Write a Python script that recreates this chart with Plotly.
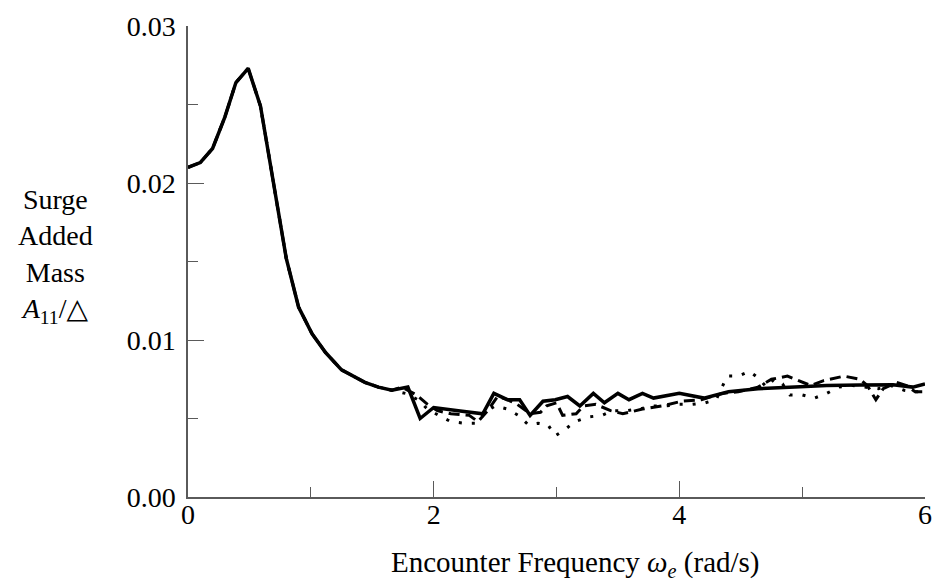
import plotly.graph_objects as go

# Shared low-frequency part (all three curves coincide)
omega_low = [0.0, 0.10, 0.20, 0.30, 0.39, 0.49, 0.59, 0.66, 0.74, 0.80, 0.90, 1.01, 1.12, 1.25, 1.44, 1.55, 1.66]
A_low = [0.0210, 0.0213, 0.0222, 0.0242, 0.0264, 0.0273, 0.0249, 0.0217, 0.0179, 0.0152, 0.0121, 0.0104,
         0.0092, 0.0081, 0.0073, 0.0070, 0.0068]

# Solid curve tail
omega_solid = [1.79, 1.89, 2.00, 2.20, 2.40, 2.49, 2.60, 2.70, 2.785, 2.89, 2.99, 3.09, 3.19, 3.30, 3.39,
               3.50, 3.59, 3.70, 3.79, 4.00, 4.20, 4.40, 4.64, 4.94, 5.20, 5.47, 5.74, 5.90, 6.00]
A_solid = [0.0070, 0.0050, 0.0057, 0.0055, 0.0053, 0.0066, 0.0062, 0.0062, 0.0052, 0.0061, 0.0062, 0.0064,
           0.0058, 0.0066, 0.0060, 0.0066, 0.0062, 0.0066, 0.0063, 0.0066, 0.0063, 0.0067, 0.0069, 0.0070,
           0.0071, 0.00713, 0.00715, 0.0070, 0.0072]

# Dashed curve tail
omega_dash = [1.74, 1.86, 1.95, 2.03, 2.14, 2.29, 2.36, 2.44, 2.52, 2.60, 2.68, 2.785, 2.87, 2.92, 3.00,
              3.05, 3.16, 3.22, 3.32, 3.44, 3.54, 3.70, 3.86, 4.02, 4.18, 4.35, 4.48, 4.64, 4.75, 4.88,
              4.97, 5.07, 5.17, 5.23, 5.34, 5.47, 5.53, 5.60, 5.66, 5.77, 5.85, 5.92, 6.00]
A_dash = [0.0070, 0.0065, 0.0059, 0.0055, 0.0053, 0.0052, 0.0048, 0.0055, 0.0064, 0.0062, 0.0059, 0.0053,
          0.0054, 0.0058, 0.0060, 0.0052, 0.0053, 0.0058, 0.0059, 0.0055, 0.0053, 0.0056, 0.0058, 0.0061,
          0.0062, 0.0066, 0.0067, 0.0070, 0.0075, 0.0077, 0.0074, 0.0071, 0.0074, 0.0075, 0.0077, 0.0075,
          0.0071, 0.0062, 0.0069, 0.0073, 0.0071, 0.0067, 0.0067]

# Dotted curve tail
omega_dot = [1.77, 1.87, 1.95, 2.04, 2.14, 2.25, 2.35, 2.42, 2.50, 2.60, 2.69, 2.77, 2.85, 2.93, 2.99,
             3.07, 3.15, 3.26, 3.37, 3.46, 3.57, 3.68, 3.78, 3.89, 4.00, 4.10, 4.21, 4.30, 4.34, 4.39,
             4.48, 4.57, 4.64, 4.71, 4.77, 4.84, 4.90, 5.00, 5.10, 5.20, 5.30, 5.41, 5.51, 5.62, 5.72,
             5.83, 5.92, 6.00]
A_dot = [0.0066, 0.0062, 0.0056, 0.0052, 0.0048, 0.0047, 0.0047, 0.0054, 0.0058, 0.0056, 0.0052, 0.0046,
         0.0047, 0.0046, 0.0039, 0.0043, 0.0048, 0.0051, 0.0052, 0.0055, 0.0055, 0.0056, 0.0058, 0.0058,
         0.0059, 0.0059, 0.0060, 0.0062, 0.0069, 0.0077, 0.0077, 0.0080, 0.0076, 0.0070, 0.0075, 0.0072,
         0.0065, 0.0065, 0.0063, 0.0066, 0.0070, 0.0071, 0.0070, 0.0069, 0.0071, 0.0068, 0.0067, 0.0067]

x_ticks = [0, 2, 4, 6]
y_ticks = [0.00, 0.01, 0.02, 0.03]

FONT = "'Liberation Serif', 'Times New Roman', Times, 'DejaVu Serif', serif"
FS = 28
AXC = "#5a5a5a"

fig = go.Figure()
fig.add_trace(go.Scatter(x=omega_low + omega_dot, y=A_low + A_dot, mode="lines",
                         line=dict(color="black", width=3, dash="3px,10px"), cliponaxis=False))
fig.add_trace(go.Scatter(x=omega_low + omega_dash, y=A_low + A_dash, mode="lines",
                         line=dict(color="black", width=3, dash="11px,6px"), cliponaxis=False))
fig.add_trace(go.Scatter(x=omega_low + omega_solid, y=A_low + A_solid, mode="lines",
                         line=dict(color="black", width=3.5), cliponaxis=False))

fig.update_layout(
    width=943, height=588,
    margin=dict(l=188, r=11, t=17, b=91),
    paper_bgcolor="white", plot_bgcolor="white",
    showlegend=False,
    font=dict(family=FONT, size=FS, color="black"),
    xaxis=dict(range=[0, 6], tickvals=x_ticks, ticktext=[str(v) for v in x_ticks],
               showgrid=False, zeroline=False, showline=True, linecolor=AXC, linewidth=1.5,
               ticks="inside", ticklen=16, tickwidth=1.2, tickcolor=AXC,
               minor=dict(tickvals=[1, 3, 5], ticks="inside", ticklen=10, tickwidth=1.2, tickcolor=AXC),
               tickfont=dict(family=FONT, size=FS), ticklabelstandoff=-8),
    yaxis=dict(range=[0, 0.03], tickvals=y_ticks, ticktext=["%.2f" % v for v in y_ticks],
               showgrid=False, zeroline=False, showline=True, linecolor=AXC, linewidth=1.5,
               ticks="inside", ticklen=16, tickwidth=1.2, tickcolor=AXC,
               minor=dict(tickvals=[0.005, 0.015, 0.025], ticks="inside", ticklen=10, tickwidth=1.2,
                          tickcolor=AXC),
               tickfont=dict(family=FONT, size=FS), ticklabelstandoff=5),
    annotations=[
        dict(text="Surge<br>Added<br>Mass<br><i>A</i><sub>11</sub>/△",
             xref="paper", yref="paper", x=-0.18, y=0.512, xanchor="center", yanchor="middle",
             showarrow=False, align="center", font=dict(family=FONT, size=FS)),
        dict(text="Encounter Frequency <i>ω</i><sub><i>e</i></sub> (rad/s)",
             xref="paper", yref="paper", x=0.526, y=-0.142, xanchor="center", yanchor="middle",
             showarrow=False, font=dict(family=FONT, size=29)),
    ],
)

fig.write_html("out.html")
